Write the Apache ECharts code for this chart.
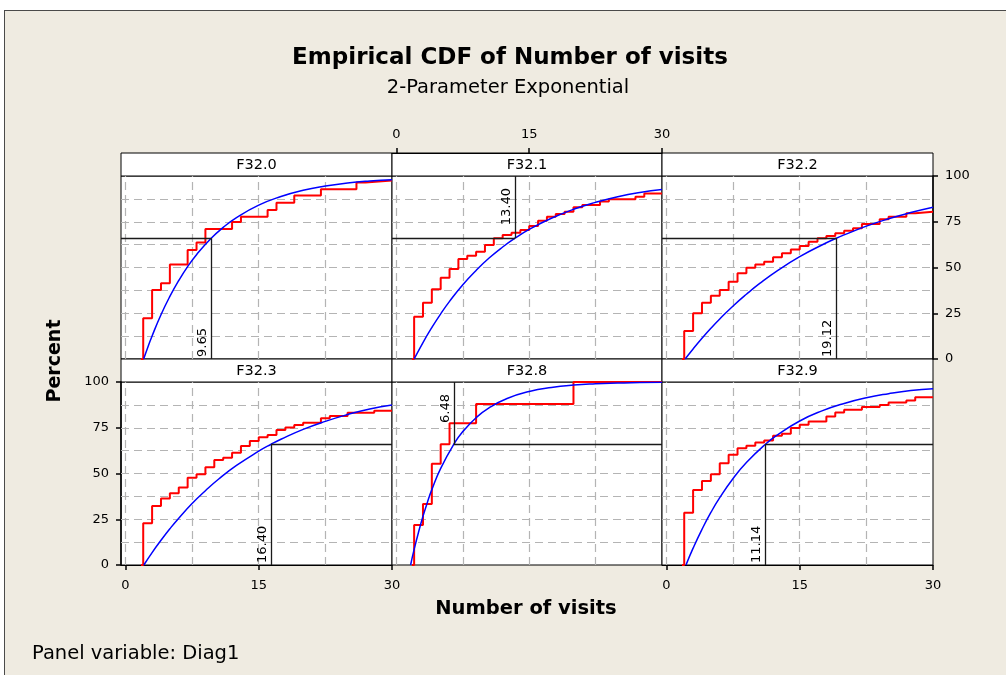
<!DOCTYPE html>
<html>
<head>
<meta charset="utf-8">
<script src="https://cdn.jsdelivr.net/npm/echarts@6/dist/echarts.min.js"></script>
<style>
html,body{margin:0;padding:0;background:#fff;overflow:hidden;}
#frame{position:absolute;left:4px;top:10px;width:1010px;height:700px;background:#EFEBE1;border:1.5px solid #4a4a4a;}
#c{position:absolute;left:0;top:0;width:1006px;height:675px;}
</style>
</head>
<body>
<div id="frame"></div>
<div id="c"></div>
<script>
// ---------- data ----------
const panelNames = ['F32.0', 'F32.1', 'F32.2', 'F32.3', 'F32.8', 'F32.9'];
const refX = [9.65, 13.40, 19.12, 16.40, 6.48, 11.14];
const refLabels = ['9.65', '13.40', '19.12', '16.40', '6.48', '11.14'];
const refPercent = 66;
const xMin = -0.5, xMax = 30;
const xTicks = [0, 15, 30];
const xGridValues = [0, 7.5, 15, 22.5];
const yTicks = [0, 25, 50, 75, 100];
const yGridValues = [12.5, 25, 37.5, 50, 62.5, 75, 87.5];

// empirical CDF steps: [number of visits, cumulative percent]
const ecdfF320 = [[1.75,0],[2,22.2],[3,37.7],[4,41.4],[5,51.7],[7,59.6],[8,63.6],[9,71.0],[12,74.9],[13,77.8],[16,81.4],[17,85.4],[19,89.3],[22,92.7],[26,96.5],[27,97.5],[30,97.5]];
const ecdfF321 = [[1.75,0],[2,23.1],[3,30.8],[4,38.1],[5,44.4],[6,49.2],[7,54.6],[8,56.4],[9,58.6],[10,62.3],[11,66.0],[12,67.8],[13,69.0],[14,70.5],[15,72.7],[16,75.6],[17,77.8],[18,79.2],[19,80.5],[20,82.9],[21,84.2],[23,86.0],[24,87.3],[27,88.7],[28,90.5],[30,90.5]];
const ecdfF322 = [[1.75,0],[2,15.3],[3,25.0],[4,30.8],[5,34.6],[6,37.7],[7,42.2],[8,46.8],[9,49.9],[10,51.7],[11,53.2],[12,55.6],[13,57.8],[14,59.9],[15,61.7],[16,64.1],[17,66.0],[18,67.2],[19,68.7],[20,70.1],[21,71.4],[22,73.8],[24,76.3],[25,77.8],[27,79.6],[28,80.5],[30,80.5]];
const ecdfF323 = [[1.75,0],[2,22.8],[3,32.2],[4,36.4],[5,39.2],[6,42.3],[7,47.7],[8,49.6],[9,53.4],[10,57.4],[11,58.6],[12,61.4],[13,65.0],[14,67.8],[15,69.8],[16,71.0],[17,73.8],[18,75.2],[19,76.5],[20,77.8],[22,80.2],[23,81.4],[25,83.2],[28,84.3],[30,84.3]];
const ecdfF328 = [[1.75,0],[2,21.9],[3,33.4],[4,55.3],[5,66.0],[6,77.5],[9,88.0],[20,100],[30,100]];
const ecdfF329 = [[1.75,0],[2,28.6],[3,41.0],[4,45.9],[5,49.6],[6,55.6],[7,60.2],[8,63.8],[9,65.1],[10,66.9],[11,68.0],[12,70.6],[13,71.7],[14,74.8],[15,76.6],[16,78.4],[18,81.2],[19,83.4],[20,84.8],[22,86.3],[24,87.5],[25,88.8],[27,89.9],[28,91.7],[30,91.7]];

// fitted 2-parameter exponential CDF
const fitF320 = [[2.05,0],[2.5,6.2],[3,12.6],[4,24.2],[5,34.2],[6,42.9],[7,50.5],[8,57.0],[9.65,66.0],[11,71.9],[12.5,77.3],[15,84.1],[17.5,88.8],[20,92.2],[22.5,94.5],[25,96.2],[27.5,97.3],[30,98.0]];
const fitF321 = [[2,0],[3,9.0],[4,17.2],[5,24.7],[6,31.5],[7.5,40.6],[9,48.4],[10.5,55.3],[12,61.2],[13.4,66.0],[15,70.8],[17.5,76.9],[20,81.8],[22.5,85.6],[25,88.7],[27.5,91.0],[30,92.6]];
const fitF322 = [[2.1,0],[3,5.5],[4,11.3],[5,16.8],[6,21.9],[7.5,29.0],[9,35.4],[10.5,41.3],[12.5,48.3],[15,55.9],[17.5,62.3],[19.12,66.0],[20,67.8],[22.5,72.6],[25,76.6],[27.5,80.0],[30,82.9]];
const fitF323 = [[2.07,0],[3,6.8],[4,13.5],[5,19.8],[6,25.6],[7.5,33.6],[9,40.6],[10.5,47.0],[12.5,54.4],[15,62.2],[16.4,66.0],[17.5,68.7],[20,74.1],[22.5,78.5],[25,82.2],[27.5,85.3],[30,87.4]];
const fitF328 = [[1.6,0],[2,8.5],[2.5,18.0],[3,26.6],[3.5,34.3],[4,41.2],[5,52.8],[6.48,66.0],[7.5,72.9],[9,80.5],[10.5,86.0],[12.5,91.0],[15,94.8],[17.5,97.0],[20,98.3],[22.5,99.0],[25,99.4],[27.5,99.7],[30,99.8]];
const fitF329 = [[2.2,0],[3,9.2],[4,19.5],[5,28.7],[6,36.8],[7.5,47.3],[9,56.0],[11.14,66.0],[12.5,71.1],[15,78.7],[17.5,84.2],[20,88.3],[22.5,91.4],[25,93.6],[27.5,95.3],[30,96.3]];

const ecdfs = [ecdfF320, ecdfF321, ecdfF322, ecdfF323, ecdfF328, ecdfF329];
const fits = [fitF320, fitF321, fitF322, fitF323, fitF328, fitF329];

// ---------- layout / style ----------
const FONT = '"DejaVu Sans", Verdana, sans-serif';
const cols = [[121, 271], [392, 270], [662, 271]];
const rows = [176, 382];
const plotH = 183;
const headerH = 23;
const refUp = [false, true, false, false, true, false];
const refLeft = [true, true, true, false, false, false];

const grids = [], xAxes = [], yAxes = [], series = [], graphics = [];

function refLines(i) {
  const x = refX[i], y = refPercent;
  const lab = {
    show: true, position: refUp[i] ? 'insideEndTop' : 'insideStartTop',
    formatter: refLabels[i], color: '#000', fontFamily: FONT, fontSize: 13, distance: 2,
    padding: refUp[i] ? [0, 10, 0, 0] : 0
  };
  const vert = refUp[i]
    ? [{coord: [x, y], label: lab}, {coord: [x, 100]}]
    : [{coord: [x, 0], label: lab}, {coord: [x, y]}];
  const hor = refLeft[i]
    ? [{coord: [xMin, y]}, {coord: [x, y]}]
    : [{coord: [x, y]}, {coord: [xMax, y]}];
  return [vert, hor];
}

for (let i = 0; i < 6; i++) {
  const col = i % 3, row = Math.floor(i / 3);
  const left = cols[col][0], width = cols[col][1], top = rows[row];
  grids.push({left: left, top: top, width: width, height: plotH, show: true,
    backgroundColor: '#fff', borderColor: '#000', borderWidth: 1});

  const topX = i === 1, botX = (i === 3 || i === 5);
  const showX = topX || botX;
  xAxes.push({
    gridIndex: i, type: 'value', min: xMin, max: xMax,
    position: topX ? 'top' : 'bottom', offset: topX ? headerH : 0,
    axisLine: {show: showX, onZero: false, lineStyle: {color: '#000', width: 1}},
    axisTick: {show: showX, customValues: xTicks, length: 5, lineStyle: {color: '#000', width: 1.5}},
    axisLabel: {show: showX, customValues: xTicks, margin: topX ? 12 : 14, color: '#000', fontFamily: FONT, fontSize: 13},
    splitLine: {show: false}
  });

  const rightY = i === 2, leftY = i === 3;
  const showY = rightY || leftY;
  yAxes.push({
    gridIndex: i, type: 'value', min: 0, max: 100,
    position: rightY ? 'right' : 'left',
    axisLine: {show: showY, onZero: false, lineStyle: {color: '#000', width: 1.5}},
    axisTick: {show: showY, customValues: yTicks, length: 5, lineStyle: {color: '#000', width: 1.5}},
    axisLabel: {show: showY, customValues: yTicks, margin: 12, color: '#000', fontFamily: FONT, fontSize: 13},
    splitLine: {show: false}
  });

  series.push({
    type: 'line', xAxisIndex: i, yAxisIndex: i, data: ecdfs[i], step: 'end',
    symbol: 'none', silent: true, z: 3,
    lineStyle: {color: '#ff0000', width: 2},
    markLine: {silent: true, symbol: 'none', z: 5, animation: false,
      label: {show: false},
      lineStyle: {color: '#1a1a1a', width: 1.3, type: 'solid'},
      emphasis: {disabled: true},
      data: refLines(i)}
  });
  series.push({
    type: 'line', xAxisIndex: i, yAxisIndex: i, data: fits[i],
    smooth: 0.5, symbol: 'none', silent: true, z: 4,
    lineStyle: {color: '#0000ff', width: 1.5},
    markLine: {silent: true, symbol: 'none', z: 1, animation: false,
      label: {show: false},
      lineStyle: {color: '#b4b4b4', width: 1.2, type: [8, 5]},
      emphasis: {disabled: true},
      data: xGridValues.map(v => ({xAxis: v})).concat(yGridValues.map(v => ({yAxis: v})))}
  });

  graphics.push({type: 'rect', shape: {x: left, y: top - headerH, width: width, height: headerH},
    style: {fill: '#fff', stroke: '#000', lineWidth: 1}, silent: true});
  graphics.push({type: 'text', x: left + width / 2, y: top - headerH / 2 + 1,
    style: {text: panelNames[i], fill: '#000', fontFamily: FONT, fontSize: 14.5,
      textAlign: 'center', textVerticalAlign: 'middle'}, silent: true});
}

graphics.push({type: 'text', x: 510, y: 58, style: {text: 'Empirical CDF of Number of visits',
  fill: '#000', fontFamily: FONT, fontSize: 23, fontWeight: 'bold', textAlign: 'center', textVerticalAlign: 'middle'}});
graphics.push({type: 'text', x: 508, y: 88, style: {text: '2-Parameter Exponential',
  fill: '#000', fontFamily: FONT, fontSize: 19.5, textAlign: 'center', textVerticalAlign: 'middle'}});
graphics.push({type: 'text', x: 526, y: 609, style: {text: 'Number of visits',
  fill: '#000', fontFamily: FONT, fontSize: 19.5, fontWeight: 'bold', textAlign: 'center', textVerticalAlign: 'middle'}});
graphics.push({type: 'text', x: 55, y: 361, rotation: Math.PI / 2, style: {text: 'Percent',
  fill: '#000', fontFamily: FONT, fontSize: 19, fontWeight: 'bold', textAlign: 'center', textVerticalAlign: 'middle'}});
graphics.push({type: 'text', x: 32, y: 654, style: {text: 'Panel variable: Diag1',
  fill: '#000', fontFamily: FONT, fontSize: 19.5, textAlign: 'left', textVerticalAlign: 'middle'}});

const chart = echarts.init(document.getElementById('c'), null, {renderer: 'canvas'});
chart.setOption({
  backgroundColor: 'transparent',
  animation: false,
  grid: grids,
  xAxis: xAxes,
  yAxis: yAxes,
  series: series,
  graphic: {elements: graphics}
});
</script>
</body>
</html>
